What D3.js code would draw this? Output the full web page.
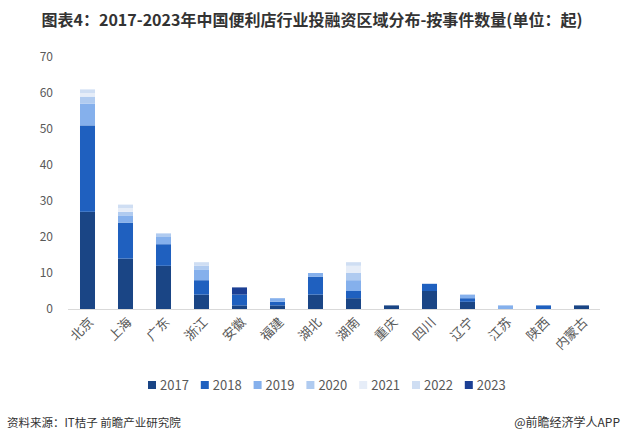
<!DOCTYPE html>
<html><head><meta charset="utf-8">
<script src="https://cdn.jsdelivr.net/npm/d3@7"></script>
<style>body{margin:0;background:#fff;}svg{display:block;font-family:"Noto Sans CJK SC","Noto Sans",sans-serif;}</style>
</head><body>
<svg id="c" width="625" height="443"></svg>
<script>
const categories = ["北京","上海","广东","浙江","安徽","福建","湖北","湖南","重庆","四川","辽宁","江苏","陕西","内蒙古"];
const years = ["2017","2018","2019","2020","2021","2022","2023"];
const s2017 = [27,14,12,4,1,1,4,3,1,5,2,0,0,1];
const s2018 = [24,10,6,4,3,1,5,2,0,2,1,0,1,0];
const s2019 = [6,2,2,3,0,1,1,3,0,0,1,1,0,0];
const s2020 = [2,1,1,1,0,0,0,2,0,0,0,0,0,0];
const s2021 = [1,1,0,0,0,0,0,2,0,0,0,0,0,0];
const s2022 = [1,1,0,1,0,0,0,1,0,0,0,0,0,0];
const s2023 = [0,0,0,0,2,0,0,0,0,0,0,0,0,0];
const yTicks = [0,10,20,30,40,50,60,70];
const colors = ["#1a4585","#1f60bf","#85b0ec","#b0cbf0","#e6edf8","#cfdef3","#1c3f94"];

const seriesVals = [s2017,s2018,s2019,s2020,s2021,s2022,s2023];
const rows = categories.map((c,i)=>{const r={cat:c}; years.forEach((y,j)=>r[y]=seriesVals[j][i]); return r;});
const stack = d3.stack().keys(years)(rows);

const svg = d3.select("#c");
const x = d3.scaleBand().domain(categories).range([68.5,600.5]).paddingInner(0.605).paddingOuter(0.3025);
const y = d3.scaleLinear().domain([0,70]).range([309,57]);

// title
svg.append("text").attr("x",312).attr("y",26).attr("text-anchor","middle")
  .attr("font-size",16).attr("font-weight","bold").attr("fill","#333")
  .text("图表4：2017-2023年中国便利店行业投融资区域分布-按事件数量(单位：起)");

// y labels
svg.append("g").selectAll("text").data(yTicks).join("text")
  .attr("x",53).attr("y",d=>y(d)).attr("dy","0.35em").attr("text-anchor","end")
  .attr("font-size",12).attr("fill","#595959").text(d=>d);

// bars
svg.append("g").selectAll("g").data(stack).join("g").attr("fill",(d,i)=>colors[i])
  .selectAll("rect").data(d=>d.filter(p=>p[1]-p[0]>0)).join("rect")
  .attr("x",d=>x(d.data.cat)).attr("width",x.bandwidth())
  .attr("y",d=>y(d[1])).attr("height",d=>y(d[0])-y(d[1]));

// baseline
svg.append("line").attr("x1",68).attr("x2",600).attr("y1",y(0)+0.5).attr("y2",y(0)+0.5)
  .attr("stroke","#d9d9d9").attr("stroke-width",1);

// x labels
svg.append("g").selectAll("text").data(categories).join("text")
  .attr("transform",d=>`translate(${x(d)+x.bandwidth()/2+7},${323}) rotate(-45)`)
  .attr("text-anchor","end").attr("font-size",13).attr("fill","#595959").text(d=>d);

// legend
const lg = svg.append("g").selectAll("g").data(years).join("g")
  .attr("transform",(d,i)=>`translate(${148+i*52.8},385)`);
lg.append("rect").attr("x",0).attr("y",-4).attr("width",8).attr("height",8).attr("fill",(d,i)=>colors[i]);
lg.append("text").attr("x",12).attr("y",0).attr("dy","0.36em").attr("font-size",13).attr("fill","#595959").text(d=>d);

// footer
svg.append("text").attr("x",7).attr("y",427).attr("font-size",11.5).attr("fill","#333").text("资料来源：IT桔子 前瞻产业研究院");
svg.append("text").attr("x",620).attr("y",427).attr("text-anchor","end").attr("font-size",12).attr("fill","#333").text("@前瞻经济学人APP");
</script>
</body></html>
